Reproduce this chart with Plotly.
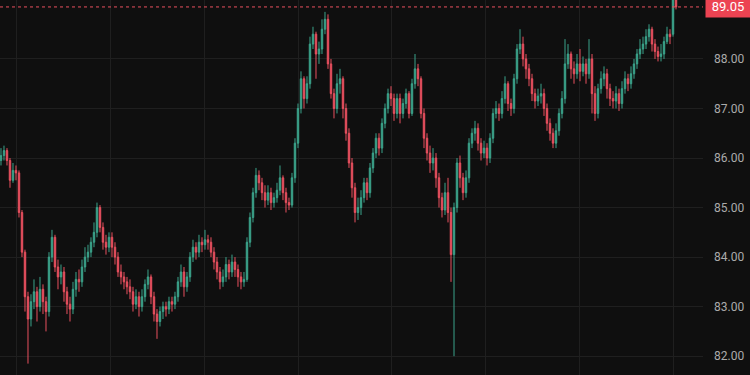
import plotly.graph_objects as go

# ---- data ----
opens = [85.95, 86.05, 86.15, 85.95, 85.55, 85.75, 85.7, 84.9, 84.1, 83.2,
         82.75, 83.1, 83.3, 83.0, 83.35, 83.1, 82.9, 84.0, 84.4, 83.8,
         83.6, 83.7, 83.3, 83.05, 82.95, 83.35, 83.55, 83.5, 83.8, 84.0,
         84.1, 84.3, 84.5, 85.0, 84.6, 84.3, 84.2, 84.4, 84.2, 84.0,
         83.7, 83.6, 83.5, 83.4, 83.3, 83.05, 83.2, 83.0, 83.2, 83.45,
         83.6, 83.2, 82.85, 82.7, 82.9, 83.0, 82.95, 83.1, 83.05, 83.2,
         83.5, 83.7, 83.4, 83.6, 84.0, 84.2, 84.1, 84.3, 84.25, 84.35,
         84.3, 84.1, 83.9, 83.7, 83.5, 83.6, 83.85, 83.7, 83.9, 83.75,
         83.6, 83.5, 83.55, 84.3, 84.8, 85.3, 85.65, 85.5, 85.3, 85.15,
         85.3, 85.1, 85.2, 85.35, 85.6, 85.3, 85.1, 85.05, 85.6, 86.3,
         87.0, 87.6, 87.2, 87.5, 88.3, 88.5, 88.1, 88.2, 88.6, 88.8,
         87.9, 87.3, 87.0, 87.5, 87.6, 87.0, 86.5, 85.9, 85.4, 84.9,
         85.0, 85.2, 85.5, 85.3, 85.8, 86.1, 86.4, 86.2, 86.7, 87.0,
         87.3, 87.2, 86.9, 87.2, 86.9, 87.1, 87.3, 86.9, 87.5, 87.8,
         87.6, 86.9, 86.4, 86.1, 85.9, 86.0, 85.6, 85.2, 84.95, 85.3,
         84.9, 84.05, 85.0, 85.9, 85.6, 85.3, 85.6, 86.3, 86.5, 86.6,
         86.3, 86.1, 86.2, 86.0, 86.4, 86.9, 87.0, 86.9, 87.2, 87.5,
         87.1, 87.0, 87.6, 88.2, 88.3, 88.0, 87.8, 87.6, 87.3, 87.15,
         87.25, 87.3, 87.0, 86.7, 86.5, 86.3, 86.55, 86.9, 87.2, 87.9,
         88.1, 87.8, 87.7, 87.9, 87.75, 87.9, 87.7, 88.0, 87.3, 86.9,
         87.4, 87.6, 87.7, 87.4, 87.2, 87.15, 87.3, 87.1, 87.4, 87.6,
         87.5, 87.7, 87.9, 88.1, 88.2, 88.3, 88.45, 88.6, 88.3, 88.15,
         88.05, 88.1, 88.35, 88.5, 88.5, 89.45]

closes = [86.05, 86.15, 85.95, 85.55, 85.75, 85.7, 84.9, 84.1, 83.2, 82.75,
          83.1, 83.3, 83.0, 83.35, 83.1, 82.9, 84.0, 84.4, 83.8, 83.6,
          83.7, 83.3, 83.05, 82.95, 83.35, 83.55, 83.5, 83.8, 84.0, 84.1,
          84.3, 84.5, 85.0, 84.6, 84.3, 84.2, 84.4, 84.2, 84.0, 83.7,
          83.6, 83.5, 83.4, 83.3, 83.05, 83.2, 83.0, 83.2, 83.45, 83.6,
          83.2, 82.85, 82.7, 82.9, 83.0, 82.95, 83.1, 83.05, 83.2, 83.5,
          83.7, 83.4, 83.6, 84.0, 84.2, 84.1, 84.3, 84.25, 84.35, 84.3,
          84.1, 83.9, 83.7, 83.5, 83.6, 83.85, 83.7, 83.9, 83.75, 83.6,
          83.5, 83.55, 84.3, 84.8, 85.3, 85.65, 85.5, 85.3, 85.15, 85.3,
          85.1, 85.2, 85.35, 85.6, 85.3, 85.1, 85.05, 85.6, 86.3, 87.0,
          87.6, 87.2, 87.5, 88.3, 88.5, 88.1, 88.2, 88.6, 88.8, 87.9,
          87.3, 87.0, 87.5, 87.6, 87.0, 86.5, 85.9, 85.4, 84.9, 85.0,
          85.2, 85.5, 85.3, 85.8, 86.1, 86.4, 86.2, 86.7, 87.0, 87.3,
          87.2, 86.9, 87.2, 86.9, 87.1, 87.3, 86.9, 87.5, 87.8, 87.6,
          86.9, 86.4, 86.1, 85.9, 86.0, 85.6, 85.2, 84.95, 85.3, 84.9,
          84.05, 85.0, 85.9, 85.6, 85.3, 85.6, 86.3, 86.5, 86.6, 86.3,
          86.1, 86.2, 86.0, 86.4, 86.9, 87.0, 86.9, 87.2, 87.5, 87.1,
          87.0, 87.6, 88.2, 88.3, 88.0, 87.8, 87.6, 87.3, 87.15, 87.25,
          87.3, 87.0, 86.7, 86.5, 86.3, 86.55, 86.9, 87.2, 87.9, 88.1,
          87.8, 87.7, 87.9, 87.75, 87.9, 87.7, 88.0, 87.3, 86.9, 87.4,
          87.6, 87.7, 87.4, 87.2, 87.15, 87.3, 87.1, 87.4, 87.6, 87.5,
          87.7, 87.9, 88.1, 88.2, 88.3, 88.45, 88.6, 88.3, 88.15, 88.05,
          88.1, 88.35, 88.5, 88.45, 89.45, 89.05]

highs = [86.2, 86.25, 86.2, 86.0, 85.9, 85.85, 85.75, 84.95, 84.15, 83.3,
         83.25, 83.55, 83.4, 83.6, 83.45, 83.2, 84.1, 84.55, 84.45, 83.95,
         83.85, 83.8, 83.4, 83.2, 83.5, 83.7, 83.75, 83.95, 84.2, 84.25,
         84.4, 84.7, 85.1, 85.05, 84.7, 84.45, 84.5, 84.5, 84.3, 84.1,
         83.85, 83.7, 83.6, 83.55, 83.4, 83.35, 83.3, 83.35, 83.55, 83.75,
         83.65, 83.3, 82.95, 83.0, 83.1, 83.1, 83.2, 83.2, 83.3, 83.6,
         83.85, 83.8, 83.7, 84.1, 84.35, 84.3, 84.45, 84.4, 84.55, 84.45,
         84.4, 84.2, 84.0, 83.8, 83.75, 84.0, 83.95, 84.05, 84.0, 83.85,
         83.7, 83.7, 84.4, 84.9, 85.4, 85.8, 85.75, 85.6, 85.45, 85.45,
         85.4, 85.3, 85.5, 85.85, 85.65, 85.4, 85.2, 85.7, 86.4, 87.1,
         87.75, 87.65, 87.65, 88.45, 88.65, 88.55, 88.35, 88.8, 88.95, 88.9,
         88.0, 87.4, 87.7, 87.8, 87.65, 87.1, 86.6, 86.0, 85.5, 85.2,
         85.35, 85.6, 85.6, 85.9, 86.2, 86.5, 86.5, 86.8, 87.1, 87.4,
         87.45, 87.3, 87.3, 87.3, 87.2, 87.4, 87.35, 87.6, 88.1, 87.9,
         87.65, 87.0, 86.5, 86.25, 86.2, 86.1, 85.7, 85.3, 85.5, 85.6,
         85.0, 85.1, 86.0, 86.05, 85.7, 85.75, 86.4, 86.6, 86.75, 86.7,
         86.4, 86.35, 86.3, 86.5, 87.0, 87.15, 87.1, 87.35, 87.65, 87.55,
         87.2, 87.7, 88.3, 88.6, 88.45, 88.1, 87.9, 87.7, 87.4, 87.4,
         87.5, 87.4, 87.1, 86.8, 86.6, 86.7, 87.0, 87.35, 88.4, 88.3,
         88.15, 87.95, 88.1, 88.2, 88.05, 88.0, 88.4, 88.1, 87.45, 87.5,
         87.75, 87.85, 87.8, 87.5, 87.35, 87.45, 87.4, 87.55, 87.75, 87.7,
         87.85, 88.0, 88.2, 88.4, 88.45, 88.6, 88.7, 88.65, 88.4, 88.25,
         88.3, 88.45, 88.65, 88.6, 89.55, 89.5]

lows = [85.85, 85.95, 85.85, 85.4, 85.5, 85.55, 84.8, 84.0, 82.9, 81.85,
        82.6, 82.95, 82.7, 82.9, 82.85, 82.5, 82.8, 83.9, 83.7, 83.35,
        83.45, 83.1, 82.85, 82.7, 82.85, 83.2, 83.3, 83.4, 83.7, 83.9,
        84.0, 84.2, 84.4, 84.5, 84.15, 84.05, 84.1, 84.0, 83.85, 83.6,
        83.45, 83.35, 83.25, 83.15, 82.9, 82.95, 82.8, 82.9, 83.1, 83.35,
        83.05, 82.7, 82.35, 82.6, 82.75, 82.8, 82.85, 82.9, 82.95, 83.1,
        83.4, 83.2, 83.3, 83.5, 83.9, 83.95, 84.0, 84.1, 84.15, 84.15,
        84.0, 83.75, 83.55, 83.35, 83.4, 83.5, 83.55, 83.6, 83.6, 83.4,
        83.35, 83.4, 83.5, 84.2, 84.7, 85.2, 85.35, 85.15, 85.0, 85.05,
        84.95, 85.0, 85.1, 85.25, 85.15, 84.9, 84.95, 85.0, 85.5, 86.2,
        86.9, 87.0, 87.1, 87.4, 88.2, 87.6, 87.9, 88.1, 88.5, 87.8,
        87.2, 86.8, 86.9, 87.3, 86.8, 86.35, 85.8, 85.2, 84.7, 84.75,
        84.85, 85.1, 85.15, 85.2, 85.7, 86.0, 86.05, 86.1, 86.6, 86.9,
        87.05, 86.75, 86.8, 86.7, 86.8, 87.0, 86.8, 86.85, 87.4, 87.45,
        86.8, 86.2, 85.95, 85.7, 85.75, 85.4, 85.0, 84.8, 84.85, 84.7,
        83.5, 82.0, 84.9, 85.4, 85.15, 85.2, 85.5, 86.2, 86.35, 86.15,
        85.95, 86.0, 85.85, 85.9, 86.3, 86.8, 86.75, 86.8, 87.1, 86.95,
        86.85, 86.9, 87.5, 88.1, 87.85, 87.6, 87.45, 87.15, 87.0, 87.05,
        87.1, 86.85, 86.55, 86.35, 86.2, 86.2, 86.45, 86.8, 87.1, 87.8,
        87.6, 87.5, 87.6, 87.55, 87.65, 87.5, 87.6, 86.9, 86.75, 86.8,
        87.3, 87.45, 87.2, 87.05, 87.0, 87.0, 86.95, 87.0, 87.3, 87.35,
        87.4, 87.6, 87.8, 88.0, 88.1, 88.2, 88.35, 88.15, 88.0, 87.95,
        87.95, 88.0, 88.3, 88.3, 88.45, 89.0]

price_ticks = [82, 83, 84, 85, 86, 87, 88]
last_price = 89.05

assert len(opens) == len(closes) == len(highs) == len(lows), (
    len(opens), len(closes), len(highs), len(lows))

bars = list(range(len(closes)))

UP = "#3ba38b"
DOWN = "#e9505f"
BG = "#0f0f0f"
GRID = "#1f1f1f"
FONT = "Roboto, 'Liberation Sans', sans-serif"

fig = go.Figure(go.Candlestick(
    x=bars, open=opens, high=highs, low=lows, close=closes,
    increasing=dict(line=dict(color=UP, width=1), fillcolor=UP),
    decreasing=dict(line=dict(color=DOWN, width=1), fillcolor=DOWN),
    whiskerwidth=0,
    hoverinfo="skip",
))

# vertical grid positions (every ~31.2 bars)
vgrid = [5.33 + 31.24 * k for k in range(8)]

fig.update_layout(
    width=750, height=375,
    margin=dict(l=0, r=47, t=0, b=0),
    paper_bgcolor=BG, plot_bgcolor=BG,
    showlegend=False,
    xaxis=dict(range=[-0.33, 234.0], rangeslider=dict(visible=False),
               showticklabels=False, tickvals=vgrid, showgrid=True,
               gridcolor=GRID, gridwidth=1, zeroline=False, showline=False,
               fixedrange=True),
    yaxis=dict(range=[81.62, 89.19], side="right", tickvals=price_ticks,
               ticktext=[f"{v:.2f}" for v in price_ticks],
               showgrid=True, gridcolor=GRID, gridwidth=1, zeroline=False,
               showline=False, ticks="", ticklabelstandoff=10,
               tickfont=dict(family=FONT, size=12, color="#ababab"),
               fixedrange=True),
    shapes=[dict(type="line", xref="paper", x0=0, x1=1, yref="y",
                 y0=last_price, y1=last_price,
                 line=dict(color=DOWN, width=1, dash="dot"))],
    annotations=[dict(xref="paper", x=1, xanchor="left", xshift=2,
                      yref="y", y=last_price, yanchor="middle",
                      text=f"{last_price:.2f}", showarrow=False,
                      bgcolor="#ec4352", borderpad=3, width=38,
                      font=dict(family=FONT, size=13, color="#ffffff"))],
)

fig.write_html("out.html", config={"displayModeBar": False})
